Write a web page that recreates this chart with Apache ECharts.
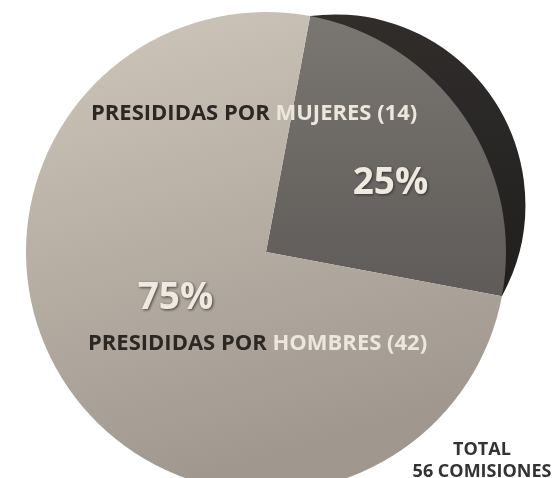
<!DOCTYPE html>
<html>
<head>
<meta charset="utf-8">
<script src="https://cdn.jsdelivr.net/npm/echarts@6/dist/echarts.min.js"></script>
<style>html,body{margin:0;padding:0;background:#fff}#c{width:556px;height:478px}</style>
</head>
<body>
<div id="c"></div>
<script>
const categories = ['MUJERES', 'HOMBRES'];
const values = [14, 42];
const prefix = 'PRESIDIDAS POR ';
const totalLabel = ['TOTAL', '56 COMISIONES'];

const chart = echarts.init(document.getElementById('c'));
const font = 'Open Sans';

// main pie geometry
const C = [266, 252], R = 240, START = 79.4, RIM = 34;
// rim of the first slice (3D edge): circle through the slice's arc end points, bulging out by RIM px
const total = values.reduce((a, b) => a + b, 0);
const span = 360 * values[0] / total;
const half = span / 2 * Math.PI / 180;
const mid = (START - span / 2) * Math.PI / 180;
const dMain = R * Math.cos(half), hc = R * Math.sin(half);
const bulge = R - dMain + RIM;
const dRim = (hc * hc - bulge * bulge) / (2 * bulge);
const rRim = dRim + bulge;
const mx = C[0] + dMain * Math.cos(mid), my = C[1] - dMain * Math.sin(mid);
const rimC = [mx - dRim * Math.cos(mid), my + dRim * Math.sin(mid)];
const rimHalf = Math.atan2(hc, dRim) * 180 / Math.PI;
const midDeg = START - span / 2;

const lightGrad = new echarts.graphic.LinearGradient(0, 0, 0.3, 1, [
  {offset: 0, color: '#d0c7bc'},
  {offset: 0.5, color: '#b7aea4'},
  {offset: 1, color: '#a0988f'}
]);
const darkGrad = new echarts.graphic.LinearGradient(0, 0, 0, 1, [
  {offset: 0, color: '#7a7672'},
  {offset: 1, color: '#5e5b58'}
]);
const rimGrad = new echarts.graphic.LinearGradient(0, 0, 0, 1, [
  {offset: 0, color: '#302d2b'},
  {offset: 1, color: '#201f1e'}
]);
const pctStyle = {
  color: '#efe9e0', fontFamily: font, fontWeight: 'bold', fontSize: 37,
  textShadowColor: 'rgba(40,35,30,0.8)', textShadowBlur: 3, textShadowOffsetX: 1, textShadowOffsetY: 1
};
const richTitle = {
  d: {color: '#2b2723', fontFamily: font, fontWeight: 'bold', fontSize: 22},
  w: {color: '#ece6dd', fontFamily: font, fontWeight: 'bold', fontSize: 22}
};
chart.setOption({
  backgroundColor: '#ffffff',
  animation: false,
  title: [
    {left: 86, top: 98, text: '{d|' + prefix + '}{w|' + categories[0] + ' (' + values[0] + ')}', textStyle: {rich: richTitle}},
    {left: 83, top: 328, text: '{d|' + prefix + '}{w|' + categories[1] + ' (' + values[1] + ')}', textStyle: {rich: richTitle}},
    {left: 477, top: 434, textAlign: 'center', text: totalLabel[0] + '\n' + totalLabel[1],
     textStyle: {color: '#333333', fontFamily: font, fontWeight: 'bold', fontSize: 18, lineHeight: 22, align: 'center'}}
  ],
  series: [
    {
      type: 'pie', silent: true, center: rimC, radius: rRim,
      startAngle: midDeg + rimHalf, endAngle: midDeg - rimHalf,
      label: {show: false}, labelLine: {show: false}, z: 1,
      data: [{name: categories[0], value: values[0], itemStyle: {color: rimGrad}}]
    },
    {
      type: 'pie', silent: true, center: C, radius: R, startAngle: START,
      labelLine: {show: false}, z: 2,
      label: Object.assign({show: true, position: 'inside', formatter: '{d}%'}, pctStyle),
      data: [
        {name: categories[0], value: values[0], itemStyle: {color: darkGrad}, label: {offset: [23, 1]}},
        {name: categories[1], value: values[1], itemStyle: {color: lightGrad}, label: {offset: [11, -23]}}
      ]
    }
  ]
});
</script>
</body>
</html>
